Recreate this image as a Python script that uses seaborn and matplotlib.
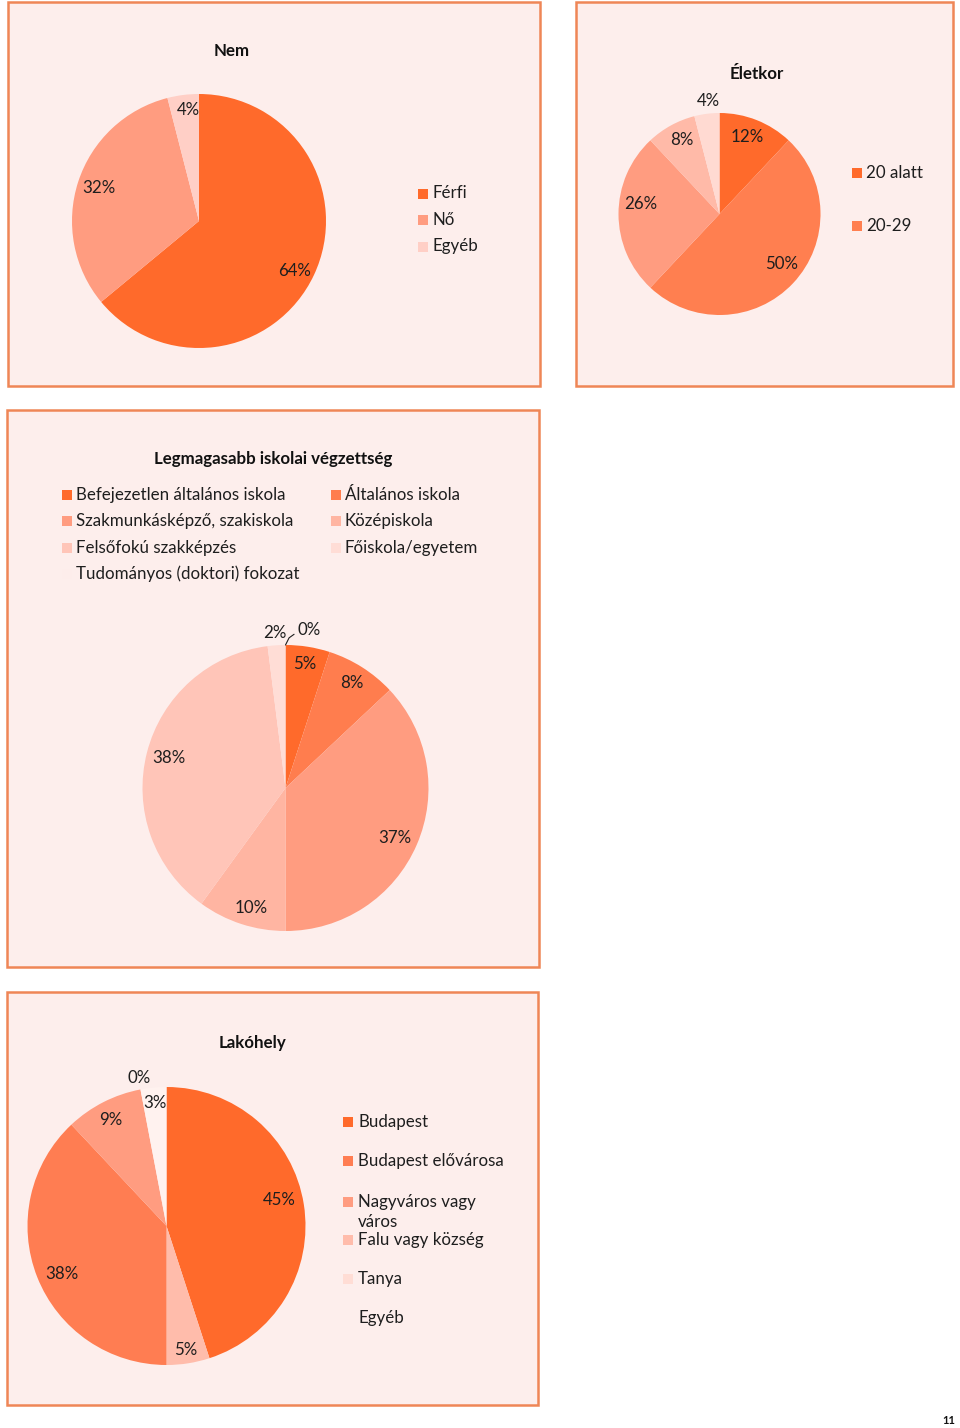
import matplotlib
matplotlib.use("Agg")
import matplotlib.pyplot as plt
from matplotlib.patches import Rectangle
import seaborn as sns
import numpy as np

# ---------------- data ----------------
nem_labels = ["Férfi", "Nő", "Egyéb"]
nem_values = [64, 32, 4]
nem_colors = ["#FF6A2B", "#FF9C80", "#FFCFC6"]

eletkor_legend = ["20 alatt", "20-29"]
eletkor_values = [12, 50, 26, 8, 4]
eletkor_colors = ["#FF6A2B", "#FF7F50", "#FF9C80", "#FFBAA8", "#FFDAD2"]

iskola_labels = ["Befejezetlen általános iskola", "Általános iskola",
                 "Szakmunkásképző, szakiskola", "Középiskola",
                 "Felsőfokú szakképzés", "Főiskola/egyetem",
                 "Tudományos (doktori) fokozat"]
iskola_values = [5, 8, 37, 10, 38, 2, 0]
iskola_colors = ["#FF6A2B", "#FF7D4E", "#FF9C80", "#FFB5A2", "#FFC5B8", "#FFDDD6", "#FDEDEB"]

lakohely_labels = ["Budapest", "Budapest elővárosa", "Nagyváros vagy\nváros",
                   "Falu vagy község", "Tanya", "Egyéb"]
lakohely_values = [45, 38, 9, 5, 0, 3]
lakohely_colors = ["#FF6A2B", "#FF7D52", "#FF9C80", "#FFBCAB", "#FFDDD5", "#FFF2EF"]
lakohely_draw_order = [0, 3, 1, 2, 4, 5]

# ---------------- style ----------------
sns.set_theme(style="white")
plt.rcParams["font.family"] = ["Lato", "DejaVu Sans"]

W, H = 960, 1428
BG = "#FDEEEC"
BORDER = "#EF8656"
TXT = "#1E1E1E"
FS = 12.2

fig = plt.figure(figsize=(W / 100, H / 100), dpi=100)
fig.patch.set_facecolor("white")


def fx(x):
    return x / W


def fy(y):
    return 1 - y / H


def panel(x0, y0, x1, y1):
    fig.patches.append(Rectangle((fx(x0), fy(y1)), fx(x1) - fx(x0), fy(y0) - fy(y1),
                                 transform=fig.transFigure, facecolor=BG,
                                 edgecolor=BORDER, lw=1.8, zorder=-5))


def pie_axes(cx, cy, r):
    ax = fig.add_axes([fx(cx - r), fy(cy + r), 2 * r / W, 2 * r / H])
    ax.set_axis_off()
    ax.set_facecolor("none")
    return ax


def draw_pie(ax, values, colors, dists, tweaks=None):
    wedges, _ = ax.pie(values, colors=colors, startangle=90, counterclock=False,
                       radius=1, wedgeprops=dict(linewidth=0))
    ax.set_xlim(-1, 1)
    ax.set_ylim(-1, 1)
    tweaks = tweaks or {}
    for i, (w, v) in enumerate(zip(wedges, values)):
        mid = (w.theta1 + w.theta2) / 2
        d = dists[i]
        mid += tweaks.get(i, 0)
        a = np.deg2rad(mid)
        ax.text(d * np.cos(a), d * np.sin(a), f"{v}%", ha="center", va="center",
                fontsize=FS, color=TXT)
    return wedges


def legend_item(mx, my, color, text, tx=None, **kw):
    s = 10
    fig.patches.append(Rectangle((fx(mx), fy(my + s / 2)), s / W, s / H,
                                 transform=fig.transFigure, facecolor=color,
                                 edgecolor="none", zorder=2))
    fig.text(fx(tx if tx is not None else mx + 14), fy(my), text, ha="left",
             va="center", fontsize=FS, color=TXT, **kw)


def title(x, y, text):
    fig.text(fx(x), fy(y), text, ha="center", va="center", fontsize=FS,
             fontweight="bold", color="#111111")


# ---------------- panels ----------------
panel(8, 2, 540, 386)
panel(576, 2, 953, 386)
panel(7, 410, 539, 967)
panel(7, 992, 538, 1405)

# Panel 1: Nem
title(232, 51, "Nem")
ax1 = pie_axes(199, 221, 127)
draw_pie(ax1, nem_values, nem_colors, [0.85, 0.83, 0.88], {0: -2.5, 2: -2})
for i, (lab, c) in enumerate(zip(nem_labels, nem_colors)):
    legend_item(418, 193.5 + i * 26.5, c, lab, tx=432)

# Panel 2: Eletkor
title(757, 74, "Életkor")
ax2 = pie_axes(719.5, 214, 101)
draw_pie(ax2, eletkor_values, eletkor_colors, [0.81, 0.79, 0.79, 0.82, 1.12],
         {0: 2, 1: 4, 2: -7, 3: -2, 4: -1.6})
for i, lab in enumerate(eletkor_legend):
    legend_item(852, 172.5 + i * 53.5, eletkor_colors[i], lab, tx=866)

# Panel 3: Iskola
title(273, 459, "Legmagasabb iskolai végzettség")
col_x = [62, 331]
for i, (lab, c) in enumerate(zip(iskola_labels, iskola_colors)):
    row, col = divmod(i, 2)
    legend_item(col_x[col], 495 + row * 26.3, c, lab, tx=col_x[col] + 14)
ax3 = pie_axes(285.5, 788, 143)
w3 = draw_pie(ax3, iskola_values, iskola_colors,
              [0.88, 0.87, 0.84, 0.87, 0.84, 1.09, 1.12],
              {2: -1, 3: 2, 5: 0.5, 6: -8.6})
# leader line for the 0% slice
a0 = np.deg2rad(w3[6].theta1)
ax3.plot([np.cos(a0), np.cos(a0) + 0.025, 0.06], [np.sin(a0), np.sin(a0) + 0.05, 1.075],
         color=TXT, lw=0.8, clip_on=False)

# Panel 4: Lakohely
title(252, 1043, "Lakóhely")
ax4 = pie_axes(166.5, 1226, 139)
order_vals = [lakohely_values[k] for k in lakohely_draw_order]
order_cols = [lakohely_colors[k] for k in lakohely_draw_order]
draw_pie(ax4, order_vals, order_cols, [0.83, 0.9, 0.83, 0.86, 1.08, 0.89],
         {0: 4, 2: 3, 3: 1, 4: -0.4})
leg_y = [1122, 1161, 1202, 1240, 1279, 1318]
for lab, c, y in zip(lakohely_labels, lakohely_colors, leg_y):
    if "\n" in lab:
        first, second = lab.split("\n")
        legend_item(343, y, c, first, tx=358)
        fig.text(fx(358), fy(y + 20), second, ha="left", va="center",
                 fontsize=FS, color=TXT)
    else:
        legend_item(343, y, c if lab != "Egyéb" else BG, lab, tx=358)

# page number
fig.text(fx(949), fy(1421), "11", ha="center", va="center", fontsize=8,
         fontweight="bold", color="#111111")

fig.savefig("out.png", dpi=100, facecolor="white")
